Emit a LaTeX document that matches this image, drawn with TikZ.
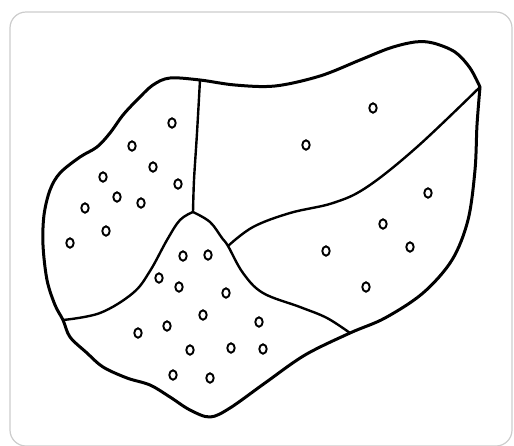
\documentclass[tikz,border=0pt]{standalone}
\begin{document}
\begin{tikzpicture}[x=1pt,y=-1pt,
  frame/.style={draw=black!20,line width=1.2pt,rounded corners=16pt},
  outline/.style={draw=black,line width=3pt,line join=round,line cap=round},
  divider/.style={draw=black,line width=2.4pt,line cap=round},
  dot/.style={draw=black,line width=1.9pt,x radius=3.7pt,y radius=4.7pt}]
\useasboundingbox (0,0) rectangle (514,445);
\path[frame] (10,12) rectangle (512,446);
% junctions
\coordinate (jT) at (200,80);
\coordinate (jR) at (480,87);
\coordinate (jL) at (63,320);
\coordinate (jB) at (350,333);
\coordinate (jC) at (193,212);
\coordinate (jM) at (228,246);
% outer boundary
\draw[outline] plot[smooth,tension=0.55] coordinates {
  (jR) (470,68) (455,52) (433,43) (415,42) (390,48) (360,60) (320,76)
  (275,86) (235,85) (jT) (170,78) (153,85) (137,100) (123,115) (110,133)
  (97,147) (80,157) (60,173) (50,190) (44,215) (43,245) (47,280) (55,305)
  (jL) (70,337) (87,353) (103,367) (127,378) (150,385) (170,397) (190,410)
  (210,417) (230,408) (265,383) (305,355) (jB) (385,318) (423,293)
  (452,260) (468,220) (475,170) (477,125) (jR)};
% dividers
\draw[divider] plot[smooth,tension=0.5] coordinates {(jT) (197,133) (194,180) (jC)};
\draw[divider] plot[smooth,tension=0.6] coordinates {(jC) (180,220) (167,240) (150,271) (133,293) (100,313) (jL)};
\draw[divider] plot[smooth,tension=0.6] coordinates {(jC) (210,222) (222,238) (jM) (243,273) (263,293) (300,307) (327,318) (jB)};
\draw[divider] plot[smooth,tension=0.6] coordinates {(jM) (253,227) (290,213) (333,203) (367,187) (417,147) (jR)};
% dots
\foreach \p in {(172,123),(132,146),(153,167),(103,177),(178,184),(117,197),
  (141,203),(85,208),(106,231),(70,243),
  (373,108),(306,145),
  (428,193),(383,224),(326,251),(410,247),(366,287),
  (183,256),(208,255),(159,278),(179,287),(226,293),(203,315),(259,322),
  (167,326),(138,333),(190,350),(231,348),(263,349),(173,375),(210,378)}
  \draw[dot] \p ellipse[];
\end{tikzpicture}
\end{document}
